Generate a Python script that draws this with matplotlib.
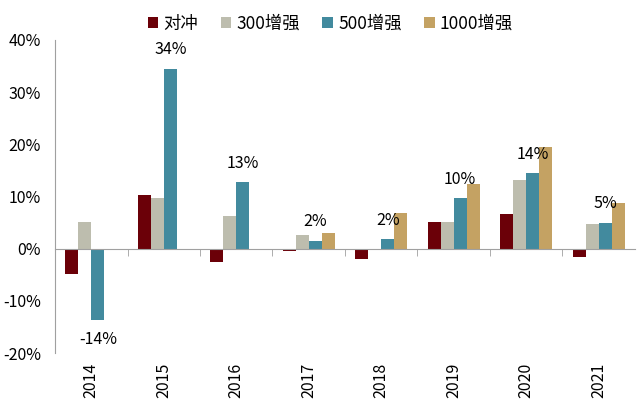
import numpy as np
import matplotlib.pyplot as plt
from matplotlib.ticker import FuncFormatter, FixedLocator

plt.rcParams['font.family'] = ['Noto Sans CJK SC', 'DejaVu Sans']

years = ['2014', '2015', '2016', '2017', '2018', '2019', '2020', '2021']
series_names = ['对冲', '300增强', '500增强', '1000增强']
hedge = [-4.8, 10.3, -2.6, -0.4, -2.0, 5.1, 6.6, -1.6]
enh300 = [5.1, 9.7, 6.2, 2.6, np.nan, 5.1, 13.2, 4.8]
enh500 = [-13.6, 34.5, 12.7, 1.5, 1.8, 9.7, 14.5, 5.0]
enh1000 = [np.nan, np.nan, np.nan, 3.1, 6.9, 12.3, 19.4, 8.7]
labels500 = ['-14%', '34%', '13%', '2%', '2%', '10%', '14%', '5%']

colors = ['#6B0008', '#BDBDAE', '#428A9E', '#C4A263']

fig = plt.figure(figsize=(6.4, 4.15), dpi=100)
ax = fig.add_axes([0.086, 0.149, 0.906, 0.755])

x = np.arange(len(years))
w = 0.18
data = [hedge, enh300, enh500, enh1000]
for i, (vals, name, c) in enumerate(zip(data, series_names, colors)):
    ax.bar(x + (i - 1.5) * w, vals, w, color=c, label=name)

for xi, v, lab in zip(x, enh500, labels500):
    xpos = xi + 0.5 * w
    if v >= 0:
        ax.text(xpos, v + 2.0, lab, ha='center', va='bottom', fontsize=11.5)
    else:
        ax.text(xpos, v - 2.2, lab, ha='center', va='top', fontsize=11.5)

ax.set_xlim(-0.5, len(years) - 0.5)
ax.set_ylim(-20, 40)
ax.set_yticks(np.arange(-20, 41, 10))
ax.yaxis.set_major_formatter(FuncFormatter(lambda v, p: f'{v:.0f}%'))
ax.tick_params(axis='y', length=0, labelsize=11.5, pad=10)

ax.spines['top'].set_visible(False)
ax.spines['right'].set_visible(False)
ax.spines['left'].set_color('#A0A0A0')
ax.spines['bottom'].set_position(('data', 0))
ax.spines['bottom'].set_color('#A0A0A0')

ax.set_xticks(x)
ax.set_xticklabels(years, rotation=90, fontsize=11.5)
ax.tick_params(axis='x', which='major', length=0, pad=82)
ax.xaxis.set_minor_locator(FixedLocator(x[1:] - 0.5))
ax.tick_params(axis='x', which='minor', length=5, color='#A0A0A0', direction='out')

leg = ax.legend(loc='lower center', bbox_to_anchor=(0.475, 0.99), ncol=4, frameon=False,
                fontsize=12.5, handlelength=0.6, handleheight=0.6, handletextpad=0.3,
                columnspacing=1.3, borderaxespad=0.2)

fig.savefig('out.png', dpi=100)
